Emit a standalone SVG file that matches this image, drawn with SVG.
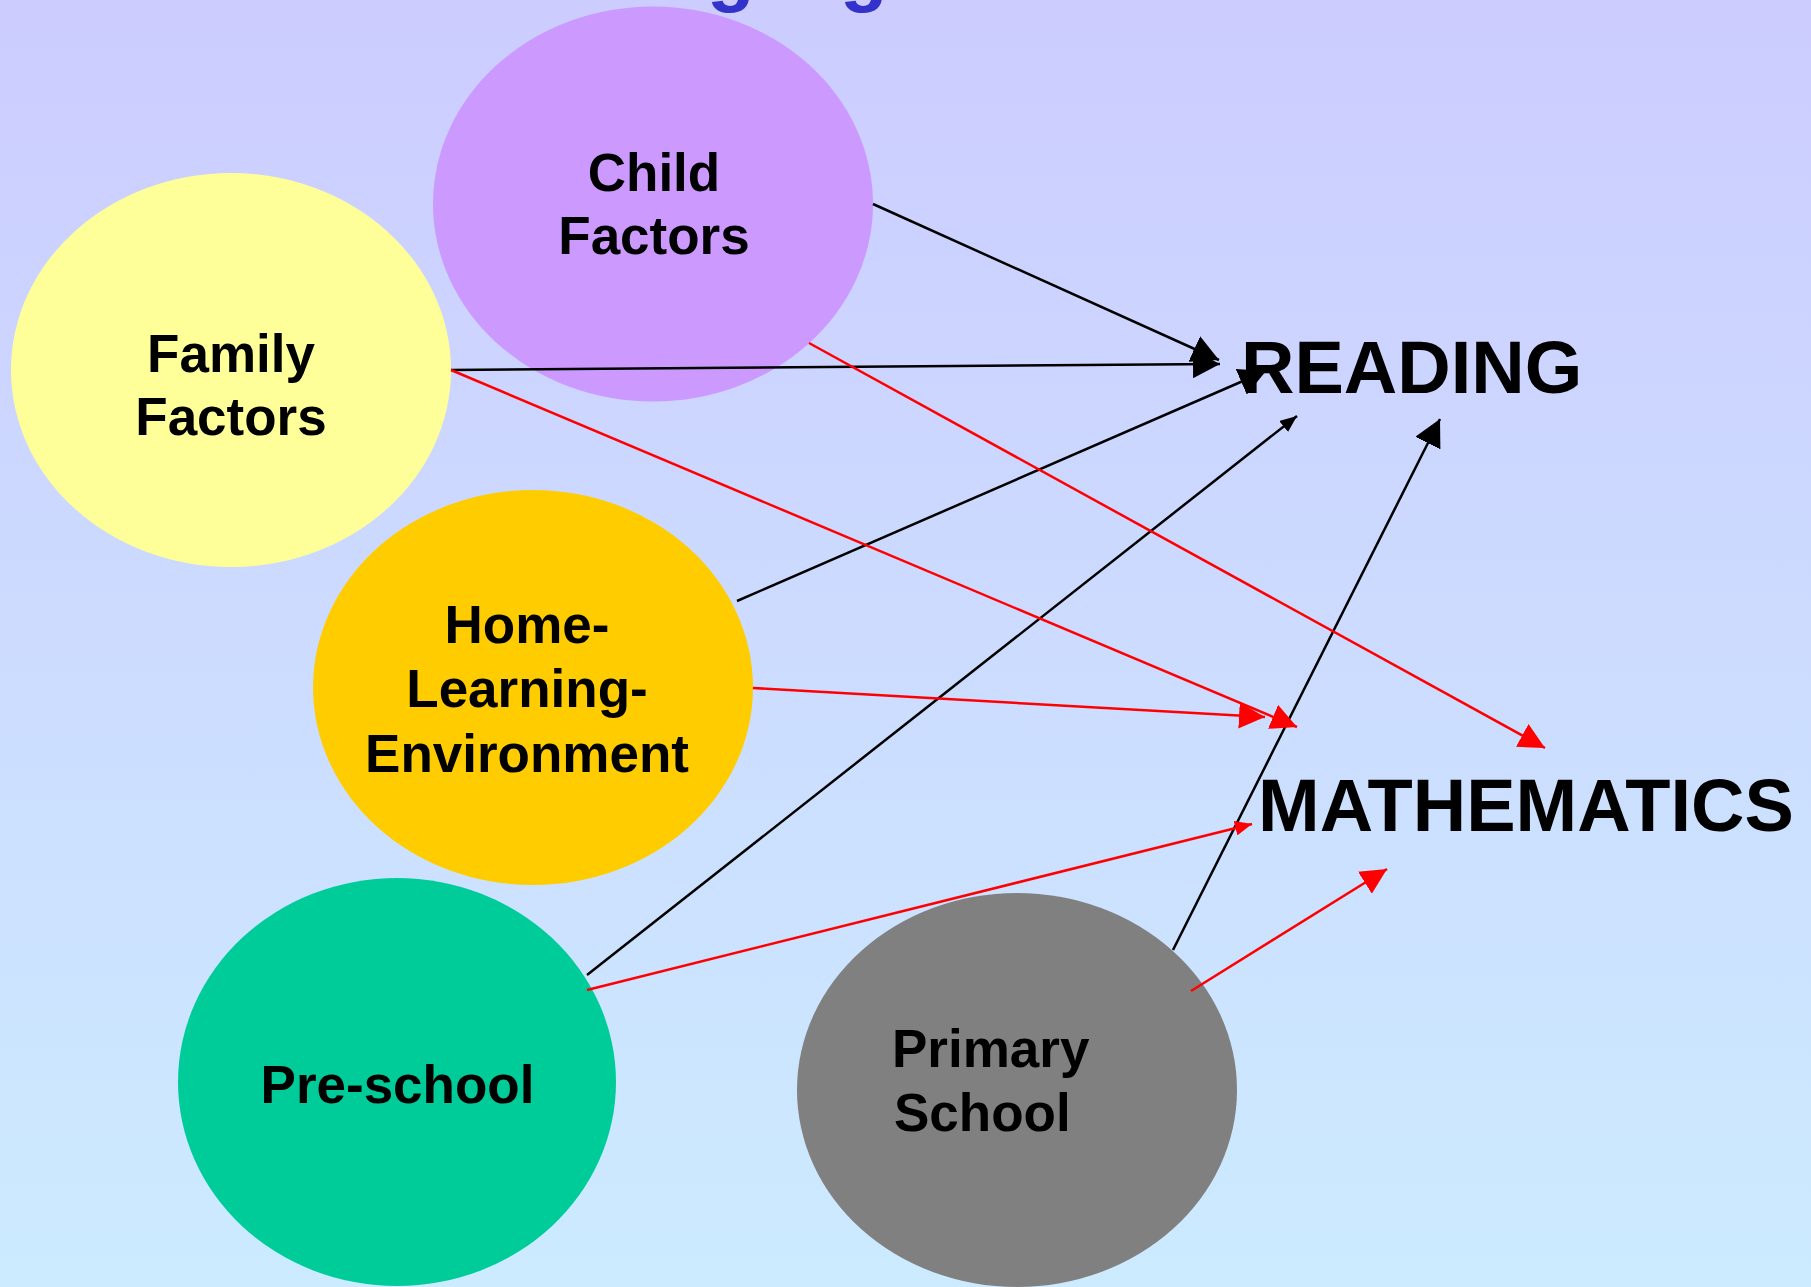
<svg xmlns="http://www.w3.org/2000/svg" width="1811" height="1287" viewBox="0 0 1811 1287">
  <defs>
    <linearGradient id="bg" x1="0" y1="0" x2="0" y2="1">
      <stop offset="0" stop-color="#CCCCFF"/>
      <stop offset="1" stop-color="#CCEBFF"/>
    </linearGradient>
    <marker id="bigK" markerUnits="userSpaceOnUse" markerWidth="28" markerHeight="28" refX="27" refY="14" orient="auto">
      <path d="M0,0 L27,14 L0,28 z" fill="#000000"/>
    </marker>
    <marker id="smallK" markerUnits="userSpaceOnUse" markerWidth="18" markerHeight="14" refX="17" refY="7" orient="auto">
      <path d="M0,0 L17,7 L0,14 z" fill="#000000"/>
    </marker>
    <marker id="bigR" markerUnits="userSpaceOnUse" markerWidth="27" markerHeight="26" refX="26" refY="13" orient="auto">
      <path d="M0,0 L26,13 L0,26 z" fill="#FF0000"/>
    </marker>
    <marker id="smallR" markerUnits="userSpaceOnUse" markerWidth="18" markerHeight="15" refX="17" refY="7.5" orient="auto">
      <path d="M0,0 L17,7.5 L0,15 z" fill="#FF0000"/>
    </marker>
  </defs>
  <style>
    .lbl { font-family: "Liberation Sans", Arial, sans-serif; font-weight: bold; font-size: 53px; fill: #000000; }
    .big { font-family: "Liberation Sans", Arial, sans-serif; font-weight: bold; font-size: 74px; fill: #000000; }
    .title { font-family: "Liberation Sans", Arial, sans-serif; font-weight: bold; font-size: 78px; fill: #3333CC; }
    .k { stroke: #000000; stroke-width: 2.5; fill: none; }
    .r { stroke: #FF0000; stroke-width: 2.5; fill: none; }
  </style>
  <rect x="0" y="0" width="1811" height="1287" fill="url(#bg)"/>
  <text class="title" x="707 840" y="-3">gg</text>

  <g id="node-child">
    <ellipse cx="653" cy="204" rx="220" ry="197.5" fill="#CC99FF"/>
    <text class="lbl" text-anchor="middle" x="654" y="191">Child</text>
    <text class="lbl" text-anchor="middle" x="654" y="254">Factors</text>
  </g>
  <g id="node-family">
    <ellipse cx="231" cy="370" rx="220" ry="197" fill="#FFFF99"/>
    <text class="lbl" text-anchor="middle" x="231" y="372">Family</text>
    <text class="lbl" text-anchor="middle" x="231" y="435">Factors</text>
  </g>
  <g id="node-home">
    <ellipse cx="533" cy="687.5" rx="220" ry="197.5" fill="#FFCC00"/>
    <text class="lbl" text-anchor="middle" x="527" y="643">Home-</text>
    <text class="lbl" text-anchor="middle" x="527" y="707">Learning-</text>
    <text class="lbl" text-anchor="middle" x="527" y="772">Environment</text>
  </g>
  <g id="node-preschool">
    <ellipse cx="397" cy="1082" rx="219" ry="204" fill="#00CC99"/>
    <text class="lbl" text-anchor="middle" x="397.5" y="1103">Pre-school</text>
  </g>
  <g id="node-primary">
    <ellipse cx="1017" cy="1090" rx="220" ry="197" fill="#808080"/>
    <text class="lbl" x="892" y="1067">Primary</text>
    <text class="lbl" x="894" y="1131">School</text>
  </g>
  <g id="node-reading">
    <text class="big" x="1241" y="393">READING</text>
  </g>
  <g id="node-mathematics">
    <text class="big" x="1258" y="831">MATHEMATICS</text>
  </g>

  <g id="connectors">
    <line class="k" x1="873" y1="204" x2="1219" y2="360" marker-end="url(#bigK)"/>
    <line class="k" x1="451" y1="370" x2="1220" y2="364" marker-end="url(#bigK)"/>
    <line class="k" x1="737" y1="601" x2="1266" y2="371" marker-end="url(#bigK)"/>
    <line class="k" x1="587" y1="975" x2="1297" y2="416" marker-end="url(#smallK)"/>
    <line class="k" x1="1173" y1="950" x2="1440" y2="419" marker-end="url(#bigK)"/>
    <line class="r" x1="809" y1="343" x2="1545" y2="748" marker-end="url(#bigR)"/>
    <line class="r" x1="451" y1="370" x2="1297" y2="727" marker-end="url(#bigR)"/>
    <line class="r" x1="753" y1="688" x2="1265" y2="717" marker-end="url(#bigR)"/>
    <line class="r" x1="587" y1="990" x2="1252" y2="824" marker-end="url(#smallR)"/>
    <line class="r" x1="1191" y1="991" x2="1387" y2="869" marker-end="url(#bigR)"/>
  </g>
</svg>
